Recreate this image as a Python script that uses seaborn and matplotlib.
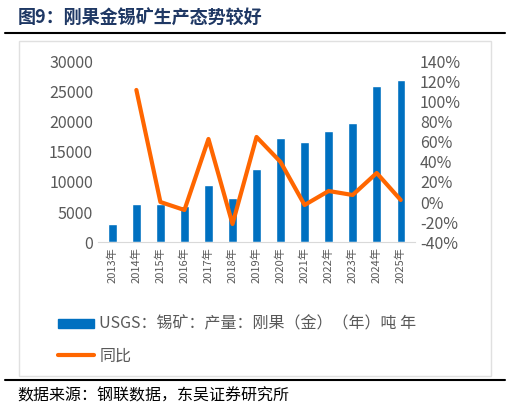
import matplotlib.pyplot as plt
import seaborn as sns
import pandas as pd
from matplotlib.patches import Rectangle
from matplotlib.lines import Line2D

years = ['2013年', '2014年', '2015年', '2016年', '2017年', '2018年', '2019年',
         '2020年', '2021年', '2022年', '2023年', '2024年', '2025年']
output = [3000, 6300, 6400, 6000, 9500, 7300, 12100, 17300, 16700, 18500, 19900, 26000, 27000]
yoy = [None, 112, 0, -8, 63, -22, 65, 40, -3, 11, 7, 29, 2]

sns.set_style('white')
plt.rcParams['font.family'] = ['Noto Sans CJK SC', 'DejaVu Sans']

df = pd.DataFrame({'year': years, 'output': output, 'yoy': yoy})

fig = plt.figure(figsize=(5.1, 4.13), dpi=100)
ax = fig.add_axes([0.192, 0.414, 0.622, 0.436])
sns.barplot(data=df, x='year', y='output', color='#0070c0', width=0.35, ax=ax, saturation=1)
ax.set_ylim(0, 30000)
ax.set_yticks(range(0, 30001, 5000))
ax.set_xlabel('')
ax.set_ylabel('')
ax.tick_params(axis='x', rotation=90, labelsize=8, colors='#595959', length=0)
ax.tick_params(axis='y', labelsize=11.5, colors='#595959', length=0)
for s in ['top', 'right', 'left']:
    ax.spines[s].set_visible(False)
ax.spines['bottom'].set_color('#d9d9d9')

ax2 = ax.twinx()
ax2.plot(range(len(years)), [v if v is not None else float('nan') for v in yoy],
         color='#ff6600', lw=3)
ax2.set_ylim(-40, 140)
ax2.set_yticks(range(-40, 141, 20))
ax2.set_yticklabels([f'{v}%' for v in range(-40, 141, 20)])
ax2.tick_params(axis='y', labelsize=11.5, colors='#595959', length=0)
for s in ax2.spines.values():
    s.set_visible(False)
ax.set_xlim(-0.6, len(years) - 0.4)

handles = [Rectangle((0, 0), 1, 1, color='#0070c0'), Line2D([], [], color='#ff6600', lw=3)]
fig.legend(handles, ['USGS：锡矿：产量：刚果（金）（年）吨 年', '同比'],
           loc='upper left', bbox_to_anchor=(0.085, 0.27), frameon=False,
           fontsize=11.5, labelcolor='#595959', handlelength=2.3, handleheight=0.5,
           handletextpad=0.3, labelspacing=0.9)

fig.text(0.035, 0.955, '图9：刚果金锡矿生产态势较好', fontsize=13, fontweight='bold',
         color='#1f3864', va='center')
fig.add_artist(Line2D([0.01, 0.99], [0.92, 0.92], color='black', lw=1.5))
fig.add_artist(Rectangle((0.037, 0.09), 0.925, 0.81, fill=False, edgecolor='#e0e0e0', lw=1))
fig.add_artist(Line2D([0.01, 0.99], [0.08, 0.08], color='black', lw=1.5))
fig.text(0.035, 0.04, '数据来源：钢联数据，东吴证券研究所', fontsize=11.5, color='black', va='center')

fig.savefig('out.png', dpi=100)
